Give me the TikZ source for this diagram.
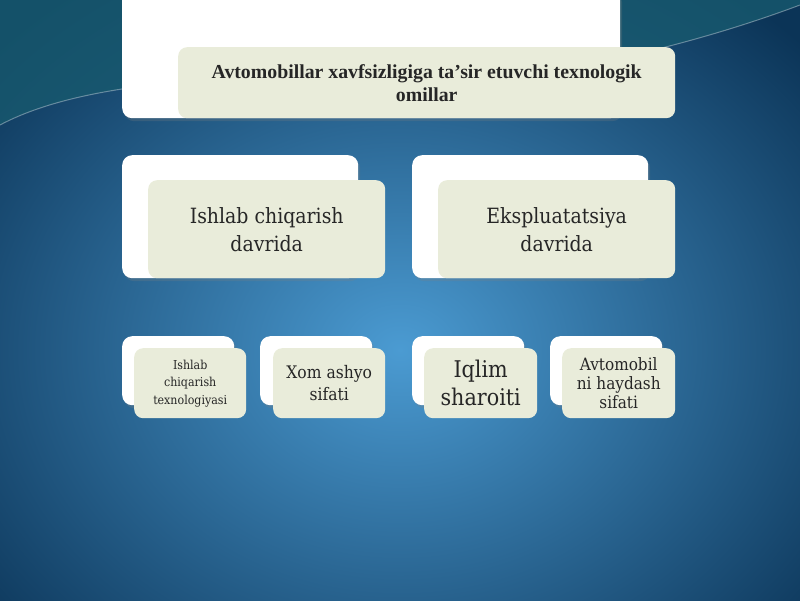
\documentclass[tikz,border=0pt]{standalone}
\usepackage{fontspec}
\setmainfont{DejaVu Serif Condensed}
\newfontfamily\titlefont{Liberation Serif}
\usetikzlibrary{shadows}
\definecolor{bgin}{HTML}{4B9BD2}
\definecolor{bgout}{HTML}{0B3457}
\definecolor{teal}{HTML}{17596E}
\definecolor{boxgreen}{HTML}{E9ECDA}
\tikzset{
  backbox/.style={draw=none, fill=white, rounded corners=10pt, inner sep=0pt, anchor=north west,
    drop shadow={opacity=0.25, shadow xshift=2pt, shadow yshift=-3pt}},
  frontbox/.style={draw=none, fill=boxgreen, rounded corners=9pt, inner sep=0pt, anchor=north west, align=center, text=black!85},
}
\begin{document}
\begin{tikzpicture}[x=1pt,y=-1pt]
\useasboundingbox (0,0) rectangle (800,600);
\shade[inner color=bgin, outer color=bgout] (-150,-100) rectangle (950,800);
\fill[teal, opacity=0.8] (0,0) -- (0,125) .. controls (150,45) and (500,95) .. (620,58) .. controls (700,40) and (760,20) .. (800,5) -- (800,0) -- cycle;
\draw[white, opacity=0.35, line width=1pt] (0,125) .. controls (150,45) and (500,95) .. (620,58) .. controls (700,40) and (760,20) .. (800,5);
\clip (0,0) rectangle (800,600);
% top
\node[backbox, minimum width=498pt, minimum height=128pt] (tw) at (122,-10) {};
\node[frontbox, minimum width=497pt, minimum height=71pt, font=\titlefont\bfseries\fontsize{19.8}{23}\selectfont] (tg) at (178,47) {Avtomobillar xavfsizligiga ta’sir etuvchi texnologik\\omillar};
% middle
\node[backbox, minimum width=236pt, minimum height=123pt] (lw) at (122,155) {};
\node[frontbox, minimum width=237pt, minimum height=98pt, font=\fontsize{21}{28}\selectfont] (lg) at (148,180) {Ishlab chiqarish\\davrida};
\node[backbox, minimum width=236pt, minimum height=123pt] (rw) at (412,155) {};
\node[frontbox, minimum width=237pt, minimum height=98pt, font=\fontsize{21}{28}\selectfont] (rg) at (438,180) {Ekspluatatsiya\\davrida};
% bottom
\node[backbox, minimum width=112pt, minimum height=69pt] (aw) at (122,336) {};
\node[frontbox, minimum width=112pt, minimum height=70pt, font=\fontsize{12.3}{17.5}\selectfont] (ag) at (134,348) {Ishlab\\chiqarish\\texnologiyasi};
\node[backbox, minimum width=112pt, minimum height=69pt] (bw) at (260,336) {};
\node[frontbox, minimum width=112pt, minimum height=70pt, font=\fontsize{17.3}{22}\selectfont] (bg) at (273,348) {Xom ashyo\\sifati};
\node[backbox, minimum width=112pt, minimum height=69pt] (cw) at (412,336) {};
\node[frontbox, minimum width=113pt, minimum height=70pt, font=\fontsize{23}{28}\selectfont] (cg) at (424,348) {Iqlim\\sharoiti};
\node[backbox, minimum width=112pt, minimum height=69pt] (dw) at (550,336) {};
\node[frontbox, minimum width=113pt, minimum height=70pt, font=\fontsize{17}{19}\selectfont] (dg) at (562,348) {Avtomobil\\ni haydash\\sifati};
\end{tikzpicture}
\end{document}
